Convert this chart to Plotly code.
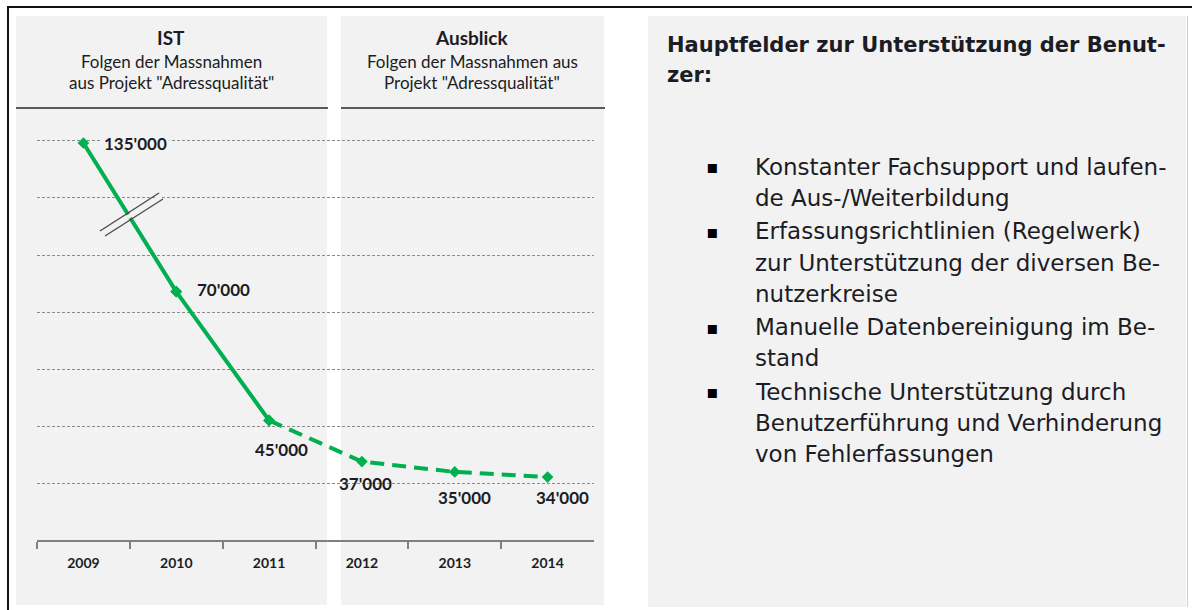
import plotly.graph_objects as go

# ---------------- data ----------------
years = ["2009", "2010", "2011", "2012", "2013", "2014"]
values = [135000, 70000, 45000, 37000, 35000, 34000]
value_labels = ["135'000", "70'000", "45'000", "37'000", "35'000", "34'000"]

panel_titles = ["IST", "Ausblick"]
panel_subtitles = [
    ["Folgen der Massnahmen", 'aus Projekt "Adressqualität"'],
    ["Folgen der Massnahmen aus", 'Projekt "Adressqualität"'],
]

side_title = ["Hauptfelder zur Unterstützung der Benut-", "zer:"]
side_items = [
    ["Konstanter Fachsupport und laufen-", "de Aus-/Weiterbildung"],
    ["Erfassungsrichtlinien (Regelwerk)", "zur Unterstützung der diversen Be-", "nutzerkreise"],
    ["Manuelle Datenbereinigung im Be-", "stand"],
    ["Technische Unterstützung durch", "Benutzerführung und Verhinderung", "von Fehlerfassungen"],
]

# ---------------- style ----------------
W, H = 1192, 610
GREEN = "#00b050"
PANEL = "#f2f2f2"
TEXT = "#1c1c24"
CHART_FONT = "Lato"
SIDE_FONT = "DejaVu Sans"


def px(x):
    return x / W


def py(y):
    return 1 - y / H


marker = dict(symbol="diamond", size=9, color=GREEN)

fig = go.Figure()
# upper part of the broken axis (2009 -> 2010)
fig.add_trace(go.Scatter(
    x=years[0:2], y=values[0:2], yaxis="y2", mode="lines+markers",
    line=dict(color=GREEN, width=4), marker=marker,
    hoverinfo="skip", showlegend=False))
# IST (solid)
fig.add_trace(go.Scatter(
    x=years[1:3], y=values[1:3], mode="lines+markers",
    line=dict(color=GREEN, width=4), marker=marker,
    hoverinfo="skip", showlegend=False))
# Ausblick (dashed)
fig.add_trace(go.Scatter(
    x=years[2:], y=values[2:], mode="lines+markers",
    line=dict(color=GREEN, width=4, dash="14px,8px"), marker=marker,
    hoverinfo="skip", showlegend=False))

shapes = []
# panels
for x0, x1, y0, y1 in [(16, 327, 16, 605), (341, 604, 16, 605), (648, 1186, 16, 607)]:
    shapes.append(dict(type="rect", xref="paper", yref="paper",
                       x0=px(x0), x1=px(x1), y0=py(y1), y1=py(y0),
                       fillcolor=PANEL, line=dict(width=0), layer="below"))
# header separators
for x0, x1 in [(16, 328), (341, 605)]:
    shapes.append(dict(type="line", xref="paper", yref="paper",
                       x0=px(x0), x1=px(x1), y0=py(108), y1=py(108),
                       line=dict(color="#5a5a5a", width=2)))
# outer frame
shapes.append(dict(type="line", xref="paper", yref="paper", x0=px(7), x1=1,
                   y0=py(7), y1=py(7), line=dict(color="#111111", width=2)))
shapes.append(dict(type="line", xref="paper", yref="paper", x0=px(8), x1=px(8),
                   y0=py(7), y1=0, line=dict(color="#111111", width=2)))
shapes.append(dict(type="line", xref="paper", yref="paper", x0=px(1187.5), x1=px(1187.5),
                   y0=py(16), y1=py(607), line=dict(color="#d0d0d0", width=1)))
# axis break symbol
shapes.append(dict(type="line", xref="paper", yref="paper", x0=px(102), x1=px(161),
                   y0=py(233.5), y1=py(196), line=dict(color=PANEL, width=4)))
for (x0, y0, x1, y1) in [(100, 231, 159, 193), (105, 236, 163, 199)]:
    shapes.append(dict(type="line", xref="paper", yref="paper", x0=px(x0), x1=px(x1),
                       y0=py(y0), y1=py(y1), line=dict(color="#4a4a4a", width=1.3)))

annotations = []
# panel headers
for cx, title, subs in zip([171, 472], panel_titles, panel_subtitles):
    annotations.append(dict(xref="paper", yref="paper", x=px(cx), y=py(37),
                            text=f"<b>{title}</b>", showarrow=False, xanchor="center",
                            yanchor="middle", font=dict(family=CHART_FONT, size=19, color=TEXT)))
    for i, s in enumerate(subs):
        annotations.append(dict(xref="paper", yref="paper", x=px(cx), y=py(62 + 20 * i),
                                text=s, showarrow=False, xanchor="center", yanchor="middle",
                                font=dict(family=CHART_FONT, size=17, color=TEXT)))

# data labels (offsets in px relative to the point)
label_style = [
    dict(xanchor="left", xshift=18, yshift=0, yref="y2"),
    dict(xanchor="left", xshift=19, yshift=2, yref="y"),
    dict(xanchor="center", xshift=12, yshift=-29, yref="y"),
    dict(xanchor="center", xshift=4, yshift=-22, yref="y"),
    dict(xanchor="center", xshift=10, yshift=-26, yref="y"),
    dict(xanchor="center", xshift=15, yshift=-20, yref="y"),
]
for i, (v, lab) in enumerate(zip(values, value_labels)):
    st = label_style[i]
    ann = dict(
        xref="x", yref=st["yref"], x=i, y=v, text=f"<b>{lab}</b>", showarrow=False,
        xanchor=st["xanchor"], yanchor="middle", xshift=st["xshift"], yshift=st["yshift"],
        font=dict(family=CHART_FONT, size=17, color=TEXT))
    if i == 0:
        ann["bgcolor"] = PANEL
        ann["borderpad"] = 2
    annotations.append(ann)

# side panel
for i, line in enumerate(side_title):
    annotations.append(dict(xref="paper", yref="paper", x=px(665), y=py(45 + 30 * i),
                            text=f"<b>{line}</b>", showarrow=False, xanchor="left",
                            yanchor="middle", font=dict(family=SIDE_FONT, size=21, color=TEXT)))
row = 0
for item_idx, item in enumerate(side_items):
    for j, line in enumerate(item):
        yy = 167 + 31 * row + 2.5 * item_idx
        if j == 0:
            annotations.append(dict(xref="paper", yref="paper", x=px(712), y=py(yy),
                                    text="▪", showarrow=False, xanchor="center", yanchor="middle",
                                    font=dict(family=SIDE_FONT, size=18, color="#000000")))
        annotations.append(dict(xref="paper", yref="paper", x=px(753), y=py(yy),
                                text=line, showarrow=False, xanchor="left", yanchor="middle",
                                font=dict(family=SIDE_FONT, size=23, color=TEXT)))
        row += 1

fig.update_layout(
    width=W, height=H,
    margin=dict(l=0, r=0, t=0, b=0),
    paper_bgcolor="white",
    plot_bgcolor="rgba(0,0,0,0)",
    showlegend=False,
    shapes=shapes,
    annotations=annotations,
    xaxis=dict(
        domain=[px(37), px(594)], type="category", categoryorder="array",
        categoryarray=years, range=[-0.5, 5.5], showgrid=False, zeroline=False,
        showline=True, linecolor="#808080", linewidth=1.5,
        ticks="outside", tickson="boundaries", ticklen=7, tickwidth=1.5,
        tickcolor="#808080", ticklabelstandoff=9,
        tickfont=dict(family=CHART_FONT, size=14, color=TEXT, weight="bold"),
        fixedrange=True,
    ),
    yaxis=dict(
        domain=[py(540), py(116)], range=[21780, 104110],
        showticklabels=False, ticks="", showline=False, zeroline=False,
        showgrid=True, gridcolor="#8a8a8a", griddash="3px,2px", gridwidth=1,
        tick0=32840, dtick=11070, fixedrange=True,
    ),
    yaxis2=dict(
        overlaying="y", anchor="x", range=[-38660, 146810],
        visible=False, showgrid=False, zeroline=False, fixedrange=True,
    ),
)

fig.write_html(
    "out.html",
    config={"displayModeBar": False},
    post_script="document.body.style.margin='0';document.body.style.overflow='hidden';",
)
